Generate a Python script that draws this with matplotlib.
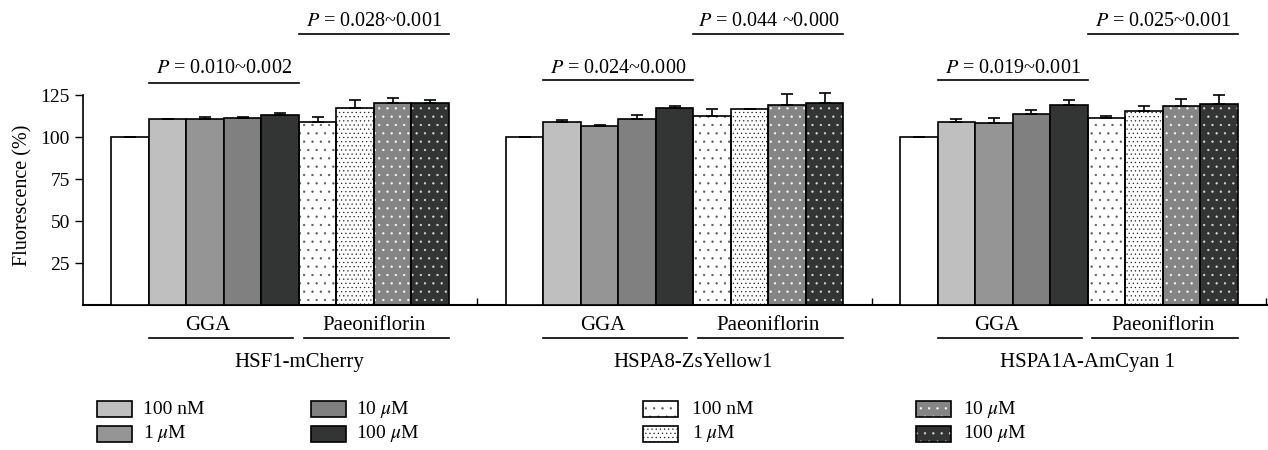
import numpy as np
import matplotlib
matplotlib.use("Agg")
import matplotlib.pyplot as plt
from matplotlib.patches import Rectangle

plt.rcParams['font.family'] = ['Liberation Serif', 'DejaVu Serif']
plt.rcParams['mathtext.fontset'] = 'stix'
plt.rcParams['hatch.linewidth'] = 0.4

# data
groups = ["HSF1-mCherry", "HSPA8-ZsYellow1", "HSPA1A-AmCyan 1"]
treatments = ["control", "GGA 100 nM", "GGA 1 uM", "GGA 10 uM", "GGA 100 uM",
              "Pae 100 nM", "Pae 1 uM", "Pae 10 uM", "Pae 100 uM"]
means_hsf1 = [100.0, 110.5, 110.5, 111.1, 113.3, 109.1, 117.0, 120.0, 120.4]
errs_hsf1 = [0.3, 0.5, 1.2, 0.6, 0.9, 2.6, 4.8, 3.4, 1.8]
means_hspa8 = [100.0, 109.1, 106.5, 110.5, 117.0, 112.5, 116.4, 118.8, 120.4]
errs_hspa8 = [0.2, 0.8, 0.6, 2.5, 1.2, 3.9, 0.2, 6.6, 5.9]
means_hspa1a = [100.0, 109.1, 108.5, 113.6, 119.0, 111.1, 115.2, 118.2, 119.8]
errs_hspa1a = [0.3, 1.4, 2.6, 2.2, 2.8, 1.4, 3.2, 4.5, 5.2]
p_gga = ["0.010~0.002", "0.024~0.000", "0.019~0.001"]
p_pae = ["0.028~0.001", "0.044 ~0.000", "0.025~0.001"]
legend_labels = ["100 nM", r"1 $\mu$M", r"10 $\mu$M", r"100 $\mu$M"]

means = [means_hsf1, means_hspa8, means_hspa1a]
errs = [errs_hsf1, errs_hspa8, errs_hspa1a]

# styles: (facecolor, hatch, hatch colour)
styles = [
    ("white", None, None),
    ("#bfbfbf", None, None),
    ("#959595", None, None),
    ("#808080", None, None),
    ("#333535", None, None),
    ("white", "..", "#555555"),
    ("white", "....", "#222222"),
    ("#858585", "..", "white"),
    ("#333535", "..", "#dddddd"),
]

W, H = 1268, 450
fig = plt.figure(figsize=(W / 100, H / 100), dpi=100)
ax = fig.add_axes([83 / W, 0.3222, 1 - 83 / W, 0.672])

bw = 0.0951
for g in range(3):
    for i in range(9):
        x = g + (i - 4) * bw
        fc, hatch, hc = styles[i]
        if hatch:
            ax.bar(x, means[g][i], bw, color=fc, edgecolor=hc, hatch=hatch,
                   linewidth=0, zorder=2)
            ax.bar(x, means[g][i], bw, fill=False, edgecolor="black",
                   linewidth=1.2, zorder=3)
        else:
            ax.bar(x, means[g][i], bw, color=fc, edgecolor="black",
                   linewidth=1.2, zorder=3)
        ax.errorbar(x, means[g][i], yerr=[[0], [errs[g][i]]], fmt="none",
                    ecolor="black", elinewidth=1.2, capsize=4.5, capthick=1.2,
                    zorder=4)

    # significance bars above
    g_left = g + (1 - 4) * bw - bw / 2
    g_right = g + (4 - 4) * bw + bw / 2
    p_left = g + (5 - 4) * bw - bw / 2
    p_right = g + (8 - 4) * bw + bw / 2
    y_gga = 132 if g == 0 else 134
    ax.plot([g_left, g_right], [y_gga, y_gga], color="black", lw=1.2,
            clip_on=False)
    ax.plot([p_left, p_right], [161.5, 161.5], color="black", lw=1.2,
            clip_on=False)
    ax.text((g_left + g_right) / 2, 141, r"$P$ = " + p_gga[g], ha="center",
            va="center", fontsize=14.5)
    ax.text((p_left + p_right) / 2, 169, r"$P$ = " + p_pae[g], ha="center",
            va="center", fontsize=14.5)

    # group labels below
    ax.plot([g_left, g_right - 0.015], [-19.8, -19.8], color="black", lw=1.2,
            clip_on=False)
    ax.plot([p_left + 0.012, p_right], [-19.8, -19.8], color="black", lw=1.2,
            clip_on=False)
    ax.text((g_left + g_right) / 2 - 0.04, -12, "GGA", ha="center",
            va="center", fontsize=15)
    ax.text((p_left + p_right) / 2, -12, "Paeoniflorin", ha="center",
            va="center", fontsize=15)
    ax.text((g_left + p_right) / 2, -34.5, groups[g], ha="center",
            va="center", fontsize=15)

ax.set_xlim(-0.5, 2.505)
ax.set_ylim(0, 180)
ax.set_xticks([0.5, 1.5, 2.5])
ax.set_xticklabels([])
ax.tick_params(axis="x", direction="in", length=5, width=1)
ax.set_yticks([25, 50, 75, 100, 125])
ax.tick_params(axis="y", direction="out", length=6, width=1, labelsize=14)
ax.spines["top"].set_visible(False)
ax.spines["right"].set_visible(False)
ax.spines["left"].set_bounds(0, 125)
ax.spines["left"].set_linewidth(1.2)
ax.spines["bottom"].set_linewidth(1.5)
ax.set_ylabel("Fluorescence (%)", fontsize=14.5)
ax.yaxis.set_label_coords(-0.043, 65 / 180)

# legend drawn in pixel coordinates
lg = fig.add_axes([0, 0, 1, 1], zorder=-1)
lg.set_xlim(0, W)
lg.set_ylim(H, 0)
lg.axis("off")
cols_x = [97, 311, 643, 916]
text_x = [143, 356, 692, 963]
rows_y = [401, 426]
for k in range(8):
    col = k // 2
    row = k % 2
    idx = 1 + k
    fc, hatch, hc = styles[idx]
    x0, y0 = cols_x[col], rows_y[row]
    if hatch:
        lg.add_patch(Rectangle((x0, y0), 35, 16, facecolor=fc, edgecolor=hc,
                               hatch=hatch, linewidth=0))
        lg.add_patch(Rectangle((x0, y0), 35, 16, fill=False, edgecolor="black",
                               linewidth=1.2))
    else:
        lg.add_patch(Rectangle((x0, y0), 35, 16, facecolor=fc,
                               edgecolor="black", linewidth=1.2))
    lg.text(text_x[col], y0 + 8, legend_labels[k % 4], ha="left", va="center",
            fontsize=14)

fig.savefig("out.png", dpi=100)
